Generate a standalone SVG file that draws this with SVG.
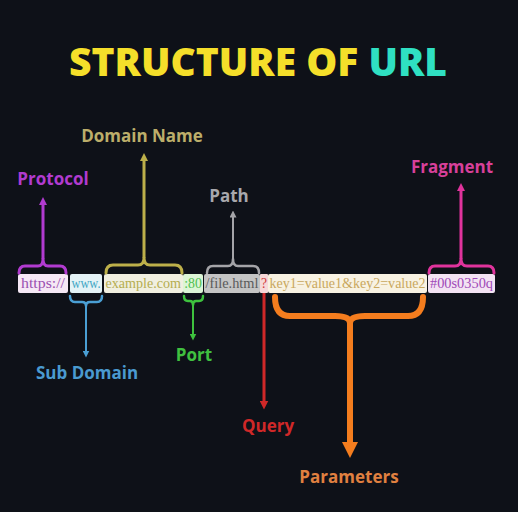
<svg xmlns="http://www.w3.org/2000/svg" width="518" height="512" viewBox="0 0 518 512">
<defs>
<style>
.lbl{font-family:"Open Sans","DejaVu Sans",sans-serif;font-weight:700;font-size:17px;text-anchor:middle}
.url{font-family:"Liberation Serif","Times New Roman",serif;font-size:14px}
.br{fill:none;stroke-linecap:round;stroke-linejoin:round}
</style>
<marker id="aPur" viewBox="0 0 10 10" refX="5" refY="5" markerWidth="8" markerHeight="8" markerUnits="userSpaceOnUse" orient="auto"><path d="M0,0 L10,5 L0,10 z" fill="#b13bd0"/></marker>
<marker id="aOli" viewBox="0 0 10 10" refX="5" refY="5" markerWidth="8" markerHeight="8" markerUnits="userSpaceOnUse" orient="auto"><path d="M0,0 L10,5 L0,10 z" fill="#bdb04a"/></marker>
<marker id="aGry" viewBox="0 0 10 10" refX="5" refY="5" markerWidth="7" markerHeight="7" markerUnits="userSpaceOnUse" orient="auto"><path d="M0,0 L10,5 L0,10 z" fill="#a4a4a8"/></marker>
<marker id="aMag" viewBox="0 0 10 10" refX="5" refY="5" markerWidth="8" markerHeight="8" markerUnits="userSpaceOnUse" orient="auto"><path d="M0,0 L10,5 L0,10 z" fill="#e0339c"/></marker>
<marker id="aBlu" viewBox="0 0 10 10" refX="5" refY="5" markerWidth="7" markerHeight="7" markerUnits="userSpaceOnUse" orient="auto"><path d="M0,0 L10,5 L0,10 z" fill="#4a9fd4"/></marker>
<marker id="aGrn" viewBox="0 0 10 10" refX="5" refY="5" markerWidth="7" markerHeight="7" markerUnits="userSpaceOnUse" orient="auto"><path d="M0,0 L10,5 L0,10 z" fill="#3ec23e"/></marker>
<marker id="aRed" viewBox="0 0 10 10" refX="5" refY="5" markerWidth="9" markerHeight="9" markerUnits="userSpaceOnUse" orient="auto"><path d="M0,0 L10,5 L0,10 z" fill="#d02828"/></marker>
<marker id="aOra" viewBox="0 0 10 10" refX="5" refY="5" markerWidth="16" markerHeight="16" markerUnits="userSpaceOnUse" orient="auto"><path d="M0,0 L10,5 L0,10 z" fill="#f47d1e"/></marker>
</defs>
<rect width="518" height="512" fill="#0e1118"/>
<text x="258" y="76" text-anchor="middle" font-family="'Open Sans','DejaVu Sans',sans-serif" font-weight="800" font-size="39"><tspan fill="#f5df2a">STRUCTURE OF </tspan><tspan fill="#2fe0c2">URL</tspan></text>

<g id="url">
<g id="seg-protocol"><rect x="18" y="274" width="50" height="19" rx="2" fill="#f5e8f5"/><text class="url" x="21" y="288" fill="#9a4fb0" textLength="44" lengthAdjust="spacingAndGlyphs">https://</text></g>
<g id="seg-sub"><rect x="70" y="274" width="32" height="19" rx="2" fill="#e4f3f6"/><text class="url" x="71.5" y="288" fill="#3ea6c4" font-size="13" textLength="29" lengthAdjust="spacingAndGlyphs">www.</text></g>
<g id="seg-domain"><rect x="104" y="274" width="79" height="19" rx="2" fill="#f0efe0"/><text class="url" x="105.5" y="288" fill="#b5ad50" textLength="75.5" lengthAdjust="spacingAndGlyphs">example.com</text></g>
<g id="seg-port"><rect x="183" y="274" width="20" height="19" rx="2" fill="#dcf5d6"/><text class="url" x="184.2" y="288" fill="#4fc04f" textLength="17.6" lengthAdjust="spacingAndGlyphs">:80</text></g>
<g id="seg-path"><rect x="204" y="274" width="56" height="19" rx="2" fill="#c4c4c4"/><text class="url" x="205.5" y="288" fill="#5a5a5a" textLength="53" lengthAdjust="spacingAndGlyphs">/file.html</text></g>
<g id="seg-query"><rect x="260" y="274" width="8" height="19" rx="1" fill="#f6d8d8"/><text class="url" x="261" y="288" fill="#d03a3a" textLength="6" lengthAdjust="spacingAndGlyphs">?</text></g>
<g id="seg-params"><rect x="268" y="274" width="159" height="19" rx="2" fill="#f8f2e2"/><text class="url" x="269.5" y="288" fill="#c9a85e" textLength="156" lengthAdjust="spacingAndGlyphs">key1=value1&amp;key2=value2</text></g>
<g id="seg-fragment"><rect x="428" y="274" width="67" height="19" rx="2" fill="#f3e3f3"/><text class="url" x="430" y="288" fill="#a04ab8" textLength="63" lengthAdjust="spacingAndGlyphs">#00s0350q</text></g>
</g>

<g id="connectors">
<path class="br" stroke="#b13bd0" stroke-width="3" d="M19,273 Q19,266 25,266 L38,266 Q43,266 43,259 Q43,266 48,266 L60,266 Q66,266 66,273"/>
<line x1="43" y1="259" x2="43" y2="201" stroke="#b13bd0" stroke-width="3" marker-end="url(#aPur)"/>
<path class="br" stroke="#bdb04a" stroke-width="3" d="M106,273 Q106,265 113,265 L138,265 Q144,265 144,258 Q144,265 150,265 L175,265 Q182,265 182,273"/>
<line x1="144" y1="258" x2="144" y2="157" stroke="#bdb04a" stroke-width="3" marker-end="url(#aOli)"/>
<path class="br" stroke="#a4a4a8" stroke-width="2.5" d="M207,273 Q207,266 213,266 L228,266 Q233,266 233,259 Q233,266 238,266 L253,266 Q259,266 259,273"/>
<line x1="233" y1="259" x2="233" y2="214" stroke="#a4a4a8" stroke-width="2" marker-end="url(#aGry)"/>
<path class="br" stroke="#e0339c" stroke-width="3" d="M429,273 Q429,266 435,266 L455,266 Q461,266 461,259 Q461,266 467,266 L488,266 Q494,266 494,273"/>
<line x1="461" y1="259" x2="461" y2="187" stroke="#e0339c" stroke-width="3" marker-end="url(#aMag)"/>

<path class="br" stroke="#4a9fd4" stroke-width="2.5" d="M70,296 Q70,302 75,302 L82,302 Q86,302 86,306 Q86,302 90,302 L97,302 Q102,302 102,296"/>
<line x1="86" y1="306" x2="86" y2="354" stroke="#4a9fd4" stroke-width="2" marker-end="url(#aBlu)"/>
<path class="br" stroke="#3ec23e" stroke-width="2.5" d="M184,296 Q184,301 188,301 L190,301 Q193,301 193,305 Q193,301 196,301 L199,301 Q203,301 203,296"/>
<line x1="193" y1="305" x2="193" y2="337" stroke="#3ec23e" stroke-width="2" marker-end="url(#aGrn)"/>
<line x1="264" y1="293" x2="264" y2="405" stroke="#d02828" stroke-width="3" marker-end="url(#aRed)"/>
<path class="br" stroke="#f47d1e" stroke-width="6" d="M275,297 Q275,316 290,316 L335,316 Q350,316 350,323 Q350,316 365,316 L408,316 Q423,316 423,297"/>
<line x1="350" y1="322" x2="350" y2="450" stroke="#f47d1e" stroke-width="6" marker-end="url(#aOra)"/>
</g>

<g id="lbl-protocol"><text class="lbl" x="53" y="185" fill="#b13bd0">Protocol</text></g>
<g id="lbl-domain"><text class="lbl" x="142" y="142" fill="#bcae6a">Domain Name</text></g>
<g id="lbl-path"><text class="lbl" x="229" y="202" fill="#a8a8ac">Path</text></g>
<g id="lbl-fragment"><text class="lbl" x="452" y="173" fill="#d8409a">Fragment</text></g>
<g id="lbl-sub"><text class="lbl" x="87" y="379" fill="#4a9ad0">Sub Domain</text></g>
<g id="lbl-port"><text class="lbl" x="194" y="361" fill="#40c040">Port</text></g>
<g id="lbl-query"><text class="lbl" x="268" y="432" fill="#d02828">Query</text></g>
<g id="lbl-params"><text class="lbl" x="349" y="483" fill="#e08040">Parameters</text></g>
</svg>
